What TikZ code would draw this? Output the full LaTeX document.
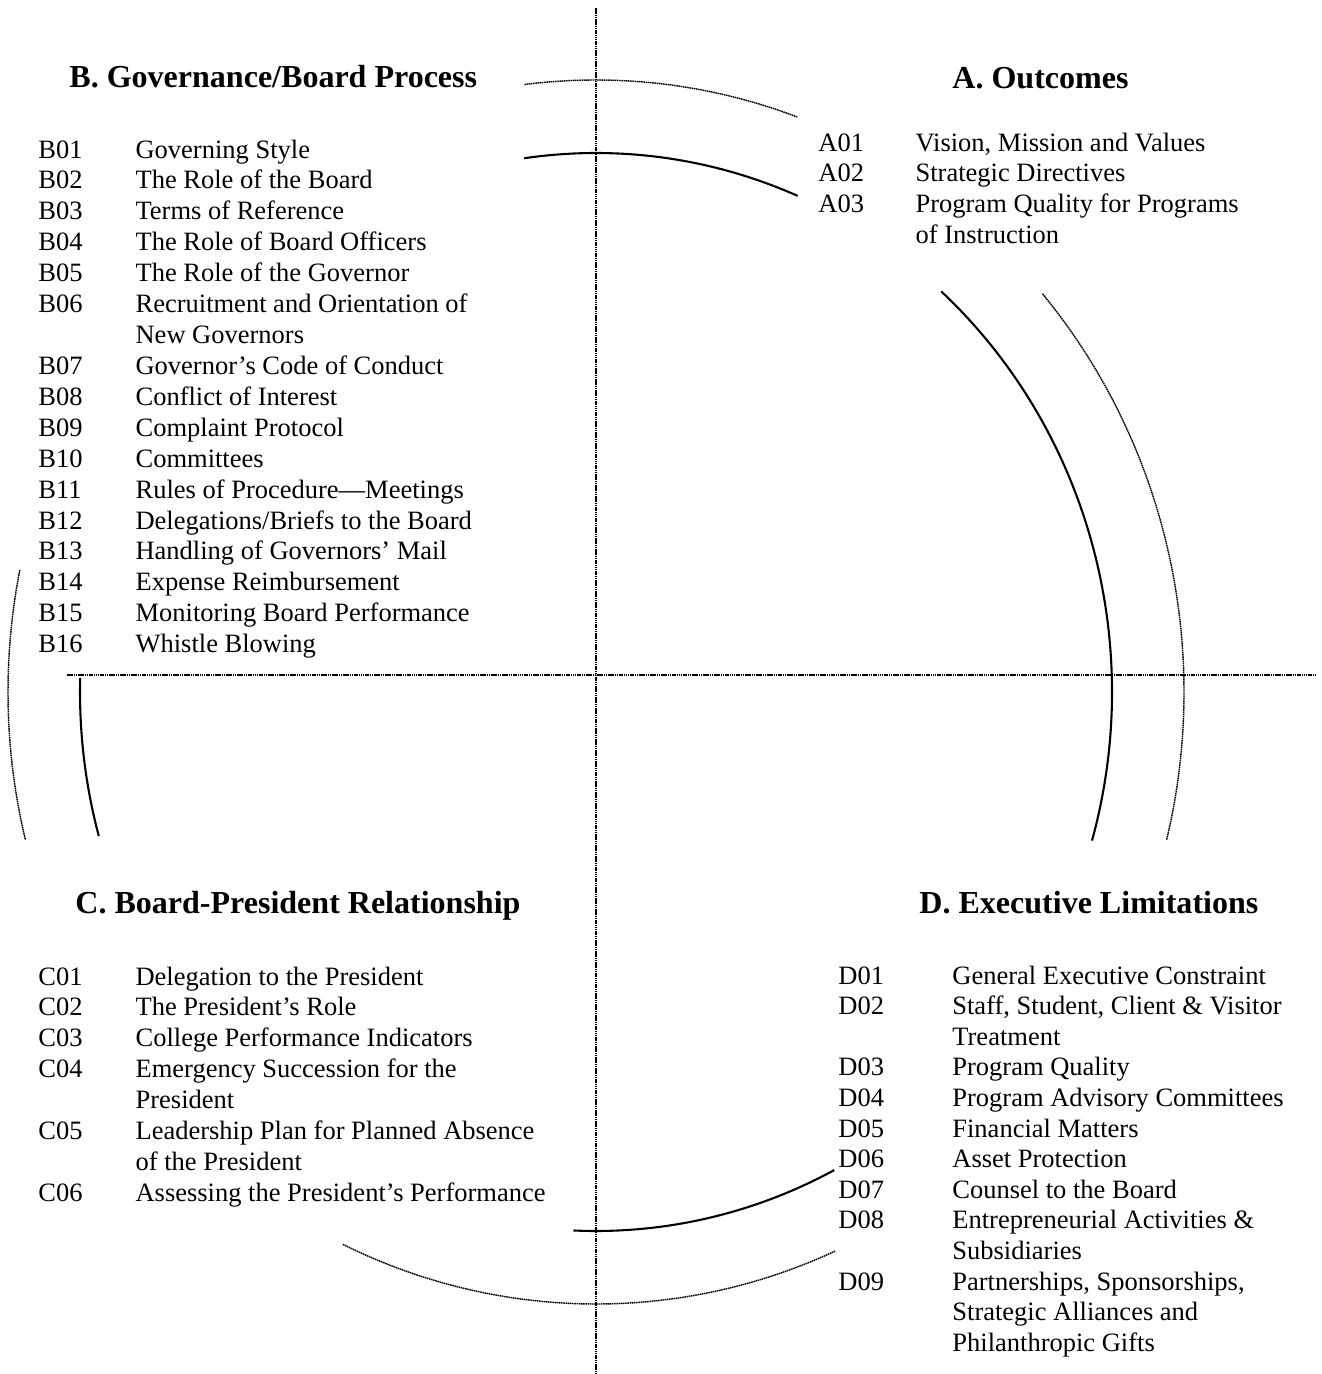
\documentclass[tikz,border=0pt]{standalone}
\usepackage{fontspec}
\setmainfont{Liberation Serif}
\usetikzlibrary{calc}
\begin{document}
\begin{tikzpicture}[x=0.4528pt,y=0.4528pt,
  axisline/.style={line width=0.65pt, dash pattern=on 0.7pt off 0.3pt},
  outerring/.style={line width=0.65pt, dash pattern=on 0.7pt off 0.3pt},
  innerring/.style={line width=0.95pt},
  heading/.style={anchor=base west, inner sep=0pt, font=\fontsize{14.5}{17}\selectfont\bfseries},
  itemlist/.style={anchor=base west, inner sep=0pt, font=\fontsize{12}{14}\selectfont},
  tightlist/.style={anchor=base west, inner sep=0pt, font=\fontsize{12}{13.86}\selectfont},
]
\useasboundingbox (0,0) rectangle (1322,-1374);

% quadrant axes
\coordinate (vtop) at (596,-8);
\coordinate (vbot) at (596,-1374);
\coordinate (hleft) at (67,-675);
\coordinate (hright) at (1316,-675);
\draw[axisline] (vtop) -- (vbot);
\draw[axisline] (hleft) -- (hright);

% centre of the two rings
\coordinate (c) at (596,-692);

% inner ring (solid)
\draw[innerring] ($(c)+(98:516 and 539)$) arc[start angle=98, end angle=67, x radius=516, y radius=539];
\draw[innerring] ($(c)+(48:516 and 539)$) arc[start angle=48, end angle=-16, x radius=516, y radius=539];
\draw[innerring] ($(c)+(178.5:516 and 539)$) arc[start angle=178.5, end angle=195.5, x radius=516, y radius=539];
\draw[innerring] ($(c)+(267.5:516 and 539)$) arc[start angle=267.5, end angle=297.5, x radius=516, y radius=539];

% outer ring (fine dotted)
\draw[outerring] ($(c)+(97:588 and 612)$) arc[start angle=97, end angle=70, x radius=588, y radius=612];
\draw[outerring] ($(c)+(40.6:588 and 612)$) arc[start angle=40.6, end angle=-14, x radius=588, y radius=612];
\draw[outerring] ($(c)+(168.5:588 and 612)$) arc[start angle=168.5, end angle=194, x radius=588, y radius=612];
\draw[outerring] ($(c)+(244.5:588 and 612)$) arc[start angle=244.5, end angle=294, x radius=588, y radius=612];

% headings
\node[heading] (headB) at (69,-87) {B. Governance/Board Process};
\node[heading] (headA) at (952,-88) {A. Outcomes};
\node[heading] (headC) at (75,-913) {C. Board-President Relationship};
\node[heading] (headD) at (919,-913) {D. Executive Limitations};

% policy lists
\node[itemlist] (listB) at (38,-158) {\begin{tabular}[t]{@{}p{44pt}@{}l@{}}
B01 & Governing Style\\
B02 & The Role of the Board\\
B03 & Terms of Reference\\
B04 & The Role of Board Officers\\
B05 & The Role of the Governor\\
B06 & Recruitment and Orientation of\\
    & New Governors\\
B07 & Governor’s Code of Conduct\\
B08 & Conflict of Interest\\
B09 & Complaint Protocol\\
B10 & Committees\\
B11 & Rules of Procedure—Meetings\\
B12 & Delegations/Briefs to the Board\\
B13 & Handling of Governors’ Mail\\
B14 & Expense Reimbursement\\
B15 & Monitoring Board Performance\\
B16 & Whistle Blowing
\end{tabular}};

\node[itemlist] (listA) at (818,-151) {\begin{tabular}[t]{@{}p{44pt}@{}l@{}}
A01 & Vision, Mission and Values\\
A02 & Strategic Directives\\
A03 & Program Quality for Programs\\
    & of Instruction
\end{tabular}};

\node[itemlist] (listC) at (38,-985) {\begin{tabular}[t]{@{}p{44pt}@{}l@{}}
C01 & Delegation to the President\\
C02 & The President’s Role\\
C03 & College Performance Indicators\\
C04 & Emergency Succession for the\\
    & President\\
C05 & Leadership Plan for Planned Absence\\
    & of the President\\
C06 & Assessing the President’s Performance
\end{tabular}};

\node[tightlist] (listD) at (838,-984) {\begin{tabular}[t]{@{}p{51.6pt}@{}l@{}}
D01 & General Executive Constraint\\
D02 & Staff, Student, Client \& Visitor\\
    & Treatment\\
D03 & Program Quality\\
D04 & Program Advisory Committees\\
D05 & Financial Matters\\
D06 & Asset Protection\\
D07 & Counsel to the Board\\
D08 & Entrepreneurial Activities \&\\
    & Subsidiaries\\
D09 & Partnerships, Sponsorships,\\
    & Strategic Alliances and\\
    & Philanthropic Gifts
\end{tabular}};
\end{tikzpicture}
\end{document}
